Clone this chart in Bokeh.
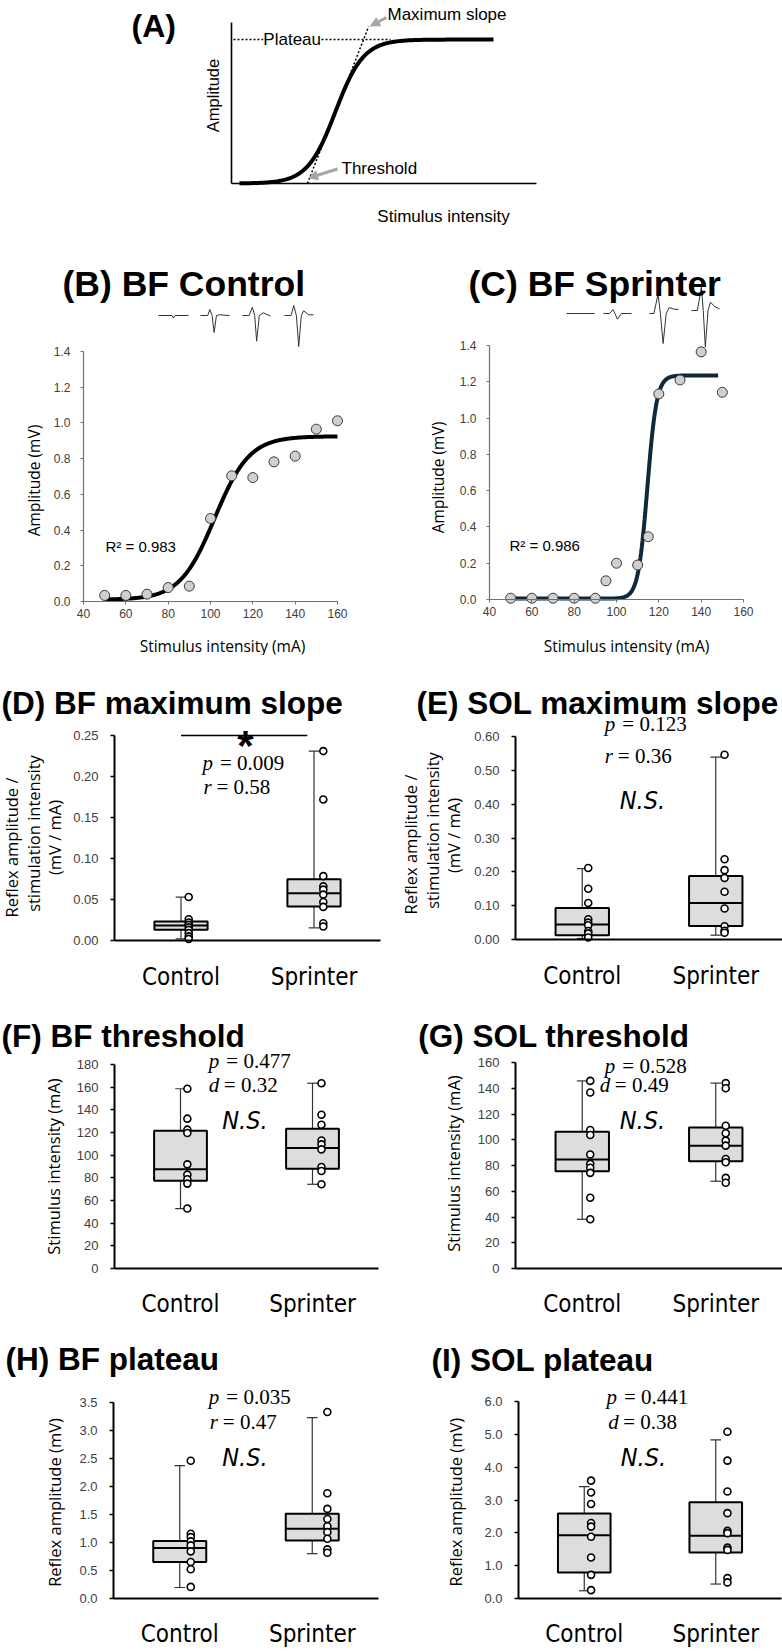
import math

from bokeh.embed import file_html
from bokeh.layouts import column, row
from bokeh.models import (Arrow, ColumnDataSource, FixedTicker, Label, NormalHead,
                          NumeralTickFormatter, Range1d)
from bokeh.plotting import figure
from bokeh.resources import INLINE

# ------------------------------------------------------------------ data
groups = ["Control", "Sprinter"]

# (A) schematic recruitment curve, both axes normalised to 0..1
schematic_plateau = 0.894
schematic_midpoint = 0.341
schematic_slope_factor = 0.046
schematic_domain = [0.026, 0.859]

# (B) BF recruitment curve, control participant
bf_control_intensity = [50, 60, 70, 80, 90, 100, 110, 120, 130, 140, 150, 160]
bf_control_amplitude = [0.034, 0.034, 0.041, 0.078, 0.086, 0.465, 0.704, 0.694,
                        0.782, 0.814, 0.965, 1.012]
bf_control_fit = [0.010, 0.925, 102.0, 8.2]        # bottom, plateau, midpoint, slope factor
bf_control_fit_domain = [50, 160]
bf_control_r2 = "0.983"

# (C) BF recruitment curve, sprinter
bf_sprinter_intensity = [50, 60, 70, 80, 90, 95, 100, 110, 115, 120, 130, 140, 150]
bf_sprinter_amplitude = [0.007, 0.007, 0.007, 0.007, 0.007, 0.103, 0.200, 0.190,
                         0.346, 1.133, 1.210, 1.365, 1.142]
bf_sprinter_fit = [0.005, 1.235, 114.6, 2.2]
bf_sprinter_fit_domain = [50, 148]
bf_sprinter_r2 = "0.986"

# example reflex sweeps: (time fraction, deflection in display units)
bf_control_sweeps = [
    ([0, 0.45, 0.50, 0.55, 1], [0, 0, -2.5, 0, 0]),
    ([0, 0.25, 0.32, 0.40, 0.47, 0.55, 0.65, 1], [0, 0, 6, 0, -17, 0, 0.7, 0]),
    ([0, 0.235, 0.353, 0.435, 0.506, 0.60, 0.74, 1], [0, 0, 8.3, 0, -25.7, 0, 2.7, -0.5]),
    ([0, 0.227, 0.318, 0.41, 0.49, 0.58, 0.66, 0.83, 1], [0, 0, 10, 0, -31, 0, 4.7, 0.7, 0.7]),
]
bf_sprinter_sweeps = [
    ([0, 1], [0, 0]),
    ([0, 0.217, 0.337, 0.41, 0.494, 0.64, 1], [0, 0, 4, 0, -5.7, 0, 0]),
    ([0, 0.153, 0.294, 0.376, 0.47, 0.576, 0.68, 0.82, 1], [0, 0, 19.3, 0, -30, 0, 6, 4.5, 4]),
    ([0, 0.21, 0.353, 0.42, 0.494, 0.59, 0.68, 0.82, 1], [0, 0, 23.3, 0, -36.7, 0, 8.3, 4, 1.7]),
]

curve_x_ticks = [40, 60, 80, 100, 120, 140, 160]
curve_y_ticks = [0.0, 0.2, 0.4, 0.6, 0.8, 1.0, 1.2, 1.4]

# box summaries: [whisker low, q1, median, q3, whisker high]
# (D) BF maximum slope (mV / mA)
bf_slope_box_control = [0.002, 0.013, 0.0183, 0.0232, 0.0528]
bf_slope_box_sprinter = [0.0154, 0.0415, 0.0577, 0.0748, 0.231]
bf_slope_control = [0.053, 0.026, 0.022, 0.019, 0.016, 0.013, 0.009, 0.005, 0.002]
bf_slope_sprinter = [0.231, 0.172, 0.0785, 0.066, 0.062, 0.056, 0.047, 0.041, 0.021, 0.017]
bf_slope_stats = [("p", "0.009"), ("r", "0.58")]
slope_bf_ticks = [0.0, 0.05, 0.10, 0.15, 0.20, 0.25]

# (E) SOL maximum slope (mV / mA)
sol_slope_box_control = [0.003, 0.0128, 0.0443, 0.0934, 0.2095]
sol_slope_box_sprinter = [0.0128, 0.040, 0.108, 0.188, 0.539]
sol_slope_control = [0.2115, 0.150, 0.108, 0.060, 0.050, 0.042, 0.025, 0.018, 0.006]
sol_slope_sprinter = [0.546, 0.237, 0.205, 0.182, 0.141, 0.0915, 0.039, 0.026, 0.020]
sol_slope_stats = [("p", "0.123"), ("r", "0.36")]
slope_sol_ticks = [0.0, 0.1, 0.2, 0.3, 0.4, 0.5, 0.6]

# (F) BF threshold (mA)
bf_thr_box_control = [52.9, 77.5, 87.5, 121.6, 158.6]
bf_thr_box_sprinter = [74.3, 88.1, 106.3, 123.3, 163.5]
bf_thr_control = [158.6, 132.2, 122.5, 119.5, 91.9, 82.8, 78.7, 74.9, 52.9]
bf_thr_sprinter = [163.5, 135.7, 126.9, 113.0, 109.5, 105.1, 89.5, 86.0, 74.3]
bf_thr_stats = [("p", "0.477"), ("d", "0.32")]
thr_bf_ticks = [0, 20, 40, 60, 80, 100, 120, 140, 160, 180]

# (G) SOL threshold (mA)
sol_thr_box_control = [38.2, 75.6, 84.6, 106.3, 145.7]
sol_thr_box_sprinter = [67.8, 83.3, 95.4, 109.6, 144.0]
sol_thr_control = [145.7, 136.7, 107.6, 103.7, 88.5, 81.3, 78.2, 74.3, 55.0, 38.2]
sol_thr_sprinter = [144.0, 140.0, 110.9, 105.0, 99.3, 95.4, 85.1, 82.5, 70.4, 66.6]
sol_thr_stats = [("p", "0.528"), ("d", "0.49")]
thr_sol_ticks = [0, 20, 40, 60, 80, 100, 120, 140, 160]

# (H) BF plateau (mV)
bf_plat_box_control = [0.196, 0.651, 0.90, 1.025, 2.372]
bf_plat_box_sprinter = [0.80, 1.037, 1.245, 1.512, 3.23]
bf_plat_control = [2.46, 1.156, 1.096, 1.02, 0.948, 0.842, 0.651, 0.521, 0.207]
bf_plat_sprinter = [3.33, 1.88, 1.60, 1.42, 1.29, 1.185, 1.067, 0.877, 0.818]
bf_plat_stats = [("p", "0.035"), ("r", "0.47")]
plat_bf_ticks = [0.0, 0.5, 1.0, 1.5, 2.0, 2.5, 3.0, 3.5]

# (I) SOL plateau (mV)
sol_plat_box_control = [0.235, 0.79, 1.93, 2.59, 3.41]
sol_plat_box_sprinter = [0.44, 1.40, 1.91, 2.93, 4.83]
sol_plat_control = [3.59, 3.23, 2.88, 2.30, 2.19, 1.88, 1.25, 0.72, 0.255]
sol_plat_sprinter = [5.08, 4.20, 3.26, 2.60, 2.06, 1.99, 1.55, 1.48, 0.62, 0.49]
sol_plat_stats = [("p", "0.441"), ("d", "0.38")]
plat_sol_ticks = [0.0, 1.0, 2.0, 3.0, 4.0, 5.0, 6.0]

# ------------------------------------------------------------------ styling
SANS = "Liberation Sans"
LABEL_FONT = "Open Sans"
SERIF = "Liberation Serif"
NARROW = "'Liberation Sans Narrow', 'Arial Narrow', 'DejaVu Sans Condensed', sans-serif"
TICK_GREY = "#404040"
AXIS_GREY = "#707070"
ARROW_GREY = "#a6a6a6"
BOX_FILL = "#dddddd"
WHISKER = "#333333"
BOX_W = 0.4
CAP = 0.04


class Geo:
    """Canvas placement of one panel plus the page-pixel to data mapping.

    The plot frame fills the whole canvas; axes sit at fixed data locations.
    """

    def __init__(self, origin, size, x_anchor, y_anchor):
        self.ox, self.oy = origin
        self.w, self.h = size
        (xv0, xp0), (xv1, xp1) = x_anchor
        (yv0, yp0), (yv1, yp1) = y_anchor
        self._x = (xv0, xp0, (xv1 - xv0) / (xp1 - xp0))
        self._y = (yv0, yp0, (yv1 - yv0) / (yp1 - yp0))
        self.x0, self.x1 = self.x_at(self.ox), self.x_at(self.ox + self.w)
        self.y0, self.y1 = self.y_at(self.oy + self.h), self.y_at(self.oy)

    def x_at(self, px):
        v0, p0, k = self._x
        return v0 + (px - p0) * k

    def y_at(self, py):
        v0, p0, k = self._y
        return v0 + (py - p0) * k


def new_fig(g):
    p = figure(width=g.w, height=g.h, x_range=Range1d(g.x0, g.x1), y_range=Range1d(g.y0, g.y1),
               min_border_left=0, min_border_right=0, min_border_top=0, min_border_bottom=0,
               toolbar_location=None, output_backend="svg", title=None)
    p.outline_line_color = None
    p.xgrid.visible = False
    p.ygrid.visible = False
    p.background_fill_color = "white"
    p.border_fill_color = "white"
    return p


def put(p, g, s, px, py, size, font=SANS, style="normal", align="left",
        baseline="alphabetic", angle=0, color="black", bg=None):
    lab = Label(x=g.x_at(px), y=g.y_at(py), text=s, text_font=font,
                text_font_size=f"{size}px", text_font_style=style,
                text_align=align, text_baseline=baseline, angle=angle,
                angle_units="deg", text_color=color)
    if bg is not None:
        lab.background_fill_color = bg
    p.add_layout(lab)


def sigmoid(x, bottom, top, mid, k):
    return bottom + (top - bottom) / (1.0 + math.exp((mid - x) / k))


# ------------------------------------------------------------------ (A) schematic
gA = Geo((0, 0), (782, 225), ((0, 231), (1, 536)), ((0, 183), (1, 22)))
pA = new_fig(gA)
for ax in (pA.xaxis[0], pA.yaxis[0]):
    ax.ticker = FixedTicker(ticks=[])
    ax.bounds = (0, 1)
    ax.fixed_location = 0
    ax.axis_line_color = "black"
    ax.axis_line_width = 1.6
    ax.major_tick_line_color = None
    ax.minor_tick_line_color = None
    ax.major_label_text_font_size = "0px"

n = 240
lo, hi = schematic_domain
ts = [lo + (hi - lo) * i / (n - 1) for i in range(n)]
pA.line(ts, [sigmoid(t, 0.0, schematic_plateau, schematic_midpoint, schematic_slope_factor) for t in ts],
        line_color="black", line_width=4)

# tangent at the midpoint: crosses zero at threshold, overshoots the plateau slightly
slope = schematic_plateau / (4 * schematic_slope_factor)
t_thr = schematic_midpoint - 2 * schematic_slope_factor
y_tan_top = 1.09 * schematic_plateau
pA.line([t_thr, t_thr + y_tan_top / slope], [0, y_tan_top],
        line_color="black", line_width=1.5, line_dash="2 2")
pA.line([gA.x_at(233), gA.x_at(390)], [schematic_plateau, schematic_plateau],
        line_color="black", line_width=1.5, line_dash="2 2")

for (x0, y0, x1, y1) in [(386, 17, 370, 25.5), (337, 168.5, 308, 177.5)]:
    pA.add_layout(Arrow(end=NormalHead(size=9, fill_color=ARROW_GREY, line_color=ARROW_GREY),
                        x_start=gA.x_at(x0), y_start=gA.y_at(y0),
                        x_end=gA.x_at(x1), y_end=gA.y_at(y1),
                        line_color=ARROW_GREY, line_width=3))

put(pA, gA, "(A)", 131, 25, 32, style="bold")
put(pA, gA, "Plateau", 291.7, 39, 17, align="center", baseline="middle", bg="white")
put(pA, gA, "Maximum slope", 387, 14, 17)
put(pA, gA, "Threshold", 341, 168, 17)
put(pA, gA, "Amplitude", 212.5, 95, 16.5, align="center", baseline="middle", angle=90)
put(pA, gA, "Stimulus intensity", 443, 216, 17, align="center")


# ------------------------------------------------------------------ (B), (C) recruitment curves
def curve_panel(g, title, title_at, xs, ys, fit, domain, color, r2, r2_at,
                ylab_at, xlab_at, sweeps, sweep_boxes):
    p = new_fig(g)
    xa, ya = p.xaxis[0], p.yaxis[0]
    xa.ticker = FixedTicker(ticks=curve_x_ticks)
    ya.ticker = FixedTicker(ticks=curve_y_ticks)
    xa.formatter = NumeralTickFormatter(format="0")
    ya.formatter = NumeralTickFormatter(format="0.0")
    xa.bounds = (curve_x_ticks[0], curve_x_ticks[-1])
    ya.bounds = (curve_y_ticks[0], curve_y_ticks[-1])
    xa.fixed_location = curve_y_ticks[0]
    ya.fixed_location = curve_x_ticks[0]
    for ax in (xa, ya):
        ax.axis_line_color = AXIS_GREY
        ax.axis_line_width = 1.2
        ax.major_tick_line_color = AXIS_GREY
        ax.major_tick_out = 3
        ax.major_tick_in = 0
        ax.minor_tick_line_color = None
        ax.major_label_text_font = SANS
        ax.major_label_text_font_size = "12px"
        ax.major_label_text_color = TICK_GREY
    ya.major_label_standoff = 10
    xa.major_label_standoff = 4

    m = 300
    a, b = domain
    cx = [a + (b - a) * i / (m - 1) for i in range(m)]
    p.line(cx, [sigmoid(x, *fit) for x in cx], line_color=color, line_width=4)
    p.scatter(xs, ys, size=10, fill_color="#cfcfcf", line_color="#3a3a3a", line_width=1)

    for (tt, vv), (xl, xr, base) in zip(sweeps, sweep_boxes):
        p.line([g.x_at(xl + t * (xr - xl)) for t in tt], [g.y_at(base - v) for v in vv],
               line_color="#333333", line_width=1)

    put(p, g, title, *title_at, 35.5, style="bold")
    put(p, g, "R\u00b2 = " + r2, *r2_at, 15)
    put(p, g, "Amplitude (mV)", *ylab_at, 15.5, font=LABEL_FONT, align="center",
        baseline="middle", angle=90)
    put(p, g, "Stimulus intensity (mA)", *xlab_at, 15.5, font=LABEL_FONT, align="center")
    return p


gB = Geo((0, 225), (391, 430), ((40, 83), (160, 337)), ((0, 601), (1.4, 351)))
pB = curve_panel(gB, "(B) BF Control", (62, 283), bf_control_intensity, bf_control_amplitude,
                 bf_control_fit, bf_control_fit_domain, "black", bf_control_r2, (105, 546),
                 (33, 480), (222, 645), bf_control_sweeps,
                 [(158, 188, 315), (200, 229, 315), (242, 270, 315), (284, 313, 315)])

gC = Geo((391, 225), (391, 430), ((40, 489), (160, 743)), ((0, 599), (1.4, 345)))
pC = curve_panel(gC, "(C) BF Sprinter", (468, 283), bf_sprinter_intensity, bf_sprinter_amplitude,
                 bf_sprinter_fit, bf_sprinter_fit_domain, "#10293a", bf_sprinter_r2, (509, 545),
                 (437.7, 477), (626, 645), bf_sprinter_sweeps,
                 [(566, 594, 313), (603, 631, 313), (649, 678, 313), (691, 719, 310)])


# ------------------------------------------------------------------ (D)-(I) group comparisons
positions = [i + 1 for i in range(len(groups))]


def box_panel(g, title, title_at, ylabel, ticks, fmt, boxes, points, offsets,
              stats, stats_at, ns_at, cat_standoff, star=None):
    p = new_fig(g)
    ya, xa = p.yaxis[0], p.xaxis[0]
    ya.ticker = FixedTicker(ticks=ticks)
    ya.formatter = NumeralTickFormatter(format=fmt)
    ya.bounds = (ticks[0], ticks[-1])
    ya.fixed_location = positions[0] - 0.5
    ya.axis_line_width = 2
    ya.axis_line_color = "black"
    ya.major_tick_out = 4
    ya.major_tick_in = 0
    ya.major_tick_line_width = 1.5
    ya.minor_tick_line_color = None
    ya.major_label_standoff = 12
    ya.major_label_text_font = SANS
    ya.major_label_text_font_size = "13px"
    ya.major_label_text_color = TICK_GREY

    xa.ticker = FixedTicker(ticks=positions)
    xa.major_label_overrides = {pos: name for pos, name in zip(positions, groups)}
    xa.bounds = (positions[0] - 0.5, positions[-1] + 0.5)
    xa.fixed_location = ticks[0]
    xa.axis_line_width = 2
    xa.axis_line_color = "black"
    xa.major_tick_line_color = None
    xa.minor_tick_line_color = None
    xa.major_tick_out = 0
    xa.major_tick_in = 0
    xa.major_label_standoff = cat_standoff
    xa.major_label_text_font = NARROW
    xa.major_label_text_font_size = "24px"
    xa.major_label_text_color = "black"

    src = ColumnDataSource(dict(x=positions,
                                xl=[x - BOX_W / 2 for x in positions],
                                xr=[x + BOX_W / 2 for x in positions],
                                cl=[x - CAP for x in positions],
                                cr=[x + CAP for x in positions],
                                lo=[b[0] for b in boxes], q1=[b[1] for b in boxes],
                                med=[b[2] for b in boxes], q3=[b[3] for b in boxes],
                                hi=[b[4] for b in boxes]))
    p.segment(x0="x", y0="lo", x1="x", y1="q1", source=src, line_color=WHISKER, line_width=1.2)
    p.segment(x0="x", y0="q3", x1="x", y1="hi", source=src, line_color=WHISKER, line_width=1.2)
    p.segment(x0="cl", y0="lo", x1="cr", y1="lo", source=src, line_color=WHISKER, line_width=1.2)
    p.segment(x0="cl", y0="hi", x1="cr", y1="hi", source=src, line_color=WHISKER, line_width=1.2)
    p.vbar(x="x", width=BOX_W, bottom="q1", top="q3", source=src,
           fill_color=BOX_FILL, line_color="black", line_width=2)
    p.segment(x0="xl", y0="med", x1="xr", y1="med", source=src, line_color="black", line_width=2)

    for pos, vals, off in zip(positions, points, offsets):
        p.scatter([pos + off] * len(vals), vals, size=7,
                  fill_color="white", line_color="black", line_width=1.6)

    put(p, g, title, *title_at, 31.5, style="bold")
    for s, cx, cy in ylabel:
        put(p, g, s, cx, cy, 16.5, font=LABEL_FONT, align="center", baseline="middle", angle=90)
    for (sym, val), (lx, by, gap) in zip(stats, stats_at):
        put(p, g, sym, lx, by, 21, font=SERIF, style="italic")
        put(p, g, "= " + val, lx + gap, by, 21, font=SERIF)
    if ns_at is not None:
        put(p, g, "N.S.", *ns_at, 25, font=NARROW, style="italic")
    if star is not None:
        p.segment(x0=[positions[0]], y0=[ticks[-1]], x1=[positions[1] - 0.05], y1=[ticks[-1]],
                  line_color="black", line_width=1.3)
        put(p, g, "*", *star, 42, style="bold", align="center")
    return p


pD = box_panel(
    Geo((0, 655), (391, 347), ((0.5, 114), (2.5, 380)), ((0, 940), (0.25, 735))),
    "(D) BF maximum slope", (1, 702),
    [("Reflex amplitude /", 11, 847), ("stimulation intensity", 32.5, 833), ("(mV / mA)", 54, 837)],
    slope_bf_ticks, "0.00", [bf_slope_box_control, bf_slope_box_sprinter],
    [bf_slope_control, bf_slope_sprinter], (0.058, 0.07),
    bf_slope_stats, [(202, 762, 17.5), (203, 786, 13)], None, 22, star=(245, 745))

pE = box_panel(
    Geo((391, 655), (391, 347), ((0.5, 515), (2.5, 782)), ((0, 939), (0.6, 736))),
    "(E) SOL maximum slope", (416, 702),
    [("Reflex amplitude /", 410, 844), ("stimulation intensity", 431.7, 830), ("(mV / mA)", 453.3, 835)],
    slope_sol_ticks, "0.00", [sol_slope_box_control, sol_slope_box_sprinter],
    [sol_slope_control, sol_slope_sprinter], (0.045, 0.066),
    sol_slope_stats, [(604.3, 723, 17.5), (604.3, 755, 13)], (619.3, 800), 22)

pF = box_panel(
    Geo((0, 1002), (391, 326), ((0.5, 114), (2.5, 378)), ((0, 1268), (180, 1064))),
    "(F) BF threshold", (1, 1035), [("Stimulus intensity (mA)", 53.3, 1166)],
    thr_bf_ticks, "0", [bf_thr_box_control, bf_thr_box_sprinter],
    [bf_thr_control, bf_thr_sprinter], (0.052, 0.068),
    bf_thr_stats, [(208.3, 1060.5, 17.5), (208.3, 1084.3, 15)], (221.7, 1120), 21)

pG = box_panel(
    Geo((391, 1002), (391, 326), ((0.5, 515), (2.5, 782)), ((0, 1268), (160, 1062))),
    "(G) SOL threshold", (417.7, 1035), [("Stimulus intensity (mA)", 452.7, 1163)],
    thr_sol_ticks, "0", [sol_thr_box_control, sol_thr_box_sprinter],
    [sol_thr_control, sol_thr_sprinter], (0.06, 0.075),
    sol_thr_stats, [(604.3, 1065.5, 17.5), (599.3, 1084.3, 15)], (619.3, 1120), 21)

pH = box_panel(
    Geo((0, 1328), (391, 324), ((0.5, 113), (2.5, 378)), ((0, 1598), (3.5, 1402))),
    "(H) BF plateau", (5, 1358.3), [("Reflex amplitude (mV)", 54, 1502)],
    plat_bf_ticks, "0.0", [bf_plat_box_control, bf_plat_box_sprinter],
    [bf_plat_control, bf_plat_sprinter], (0.083, 0.114),
    bf_plat_stats, [(208.3, 1396.7, 17.5), (209.3, 1421, 13)], (221.7, 1456.7), 21)

pI = box_panel(
    Geo((391, 1328), (391, 324), ((0.5, 518), (2.5, 781)), ((0, 1598), (6, 1401))),
    "(I) SOL plateau", (431, 1359), [("Reflex amplitude (mV)", 455, 1501.7)],
    plat_sol_ticks, "0.0", [sol_plat_box_control, sol_plat_box_sprinter],
    [sol_plat_control, sol_plat_sprinter], (0.052, 0.089),
    sol_plat_stats, [(606, 1396.7, 17.5), (607.7, 1421, 15)], (620.3, 1456.7), 21)

layout = column(pA, row(pB, pC), row(pD, pE), row(pF, pG), row(pH, pI))

with open("out.html", "w") as fh:
    fh.write(file_html(layout, INLINE))
